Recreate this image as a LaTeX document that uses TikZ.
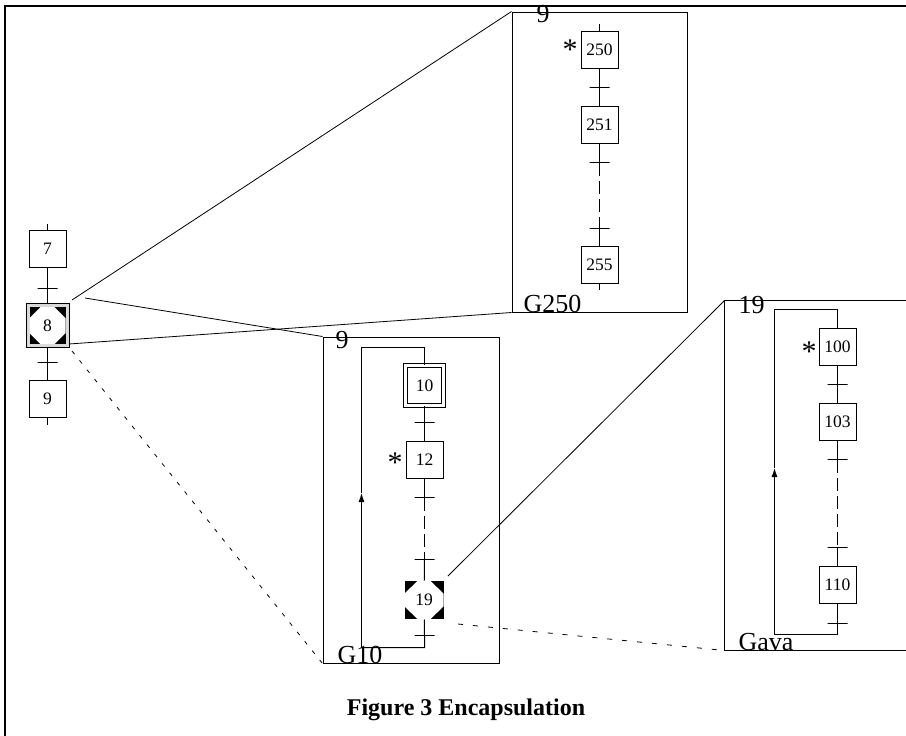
\documentclass[tikz,border=0pt]{standalone}
\usepackage{fontspec}
\setmainfont{Liberation Serif}
\usetikzlibrary{shapes.geometric,arrows.meta}
\begin{document}
\begin{tikzpicture}[x=1pt,y=-1pt,line width=1pt,
  stepbox/.style={draw,minimum width=37pt,minimum height=37pt,inner sep=0pt,font=\fontsize{17.5}{20}\selectfont},
  initbox/.style={stepbox,double,double distance=3.2pt,line width=0.8pt,minimum width=38.5pt,minimum height=40.5pt},
  trans/.style={draw,minimum width=20pt,minimum height=0pt,inner sep=0pt},
  blacksq/.style={fill=black,minimum width=37pt,minimum height=37pt,inner sep=0pt},
  steplab/.style={inner sep=0pt,font=\fontsize{17.5}{20}\selectfont},
  octfill/.style={fill=white},
  macro/.style={draw,inner sep=0pt},
  biglab/.style={anchor=base west,inner sep=0pt,font=\fontsize{26}{28}\selectfont},
  star/.style={anchor=base,inner sep=0pt,font=\fontsize{30}{32}\selectfont},
  gaps/.style={dash pattern=on 13pt off 5pt},
  lead/.style={line width=0.8pt},
  dotlead/.style={line width=0.8pt,dash pattern=on 4pt off 8pt},
  uparrow/.style={-{Latex[length=9pt,width=6pt]}}
]
\useasboundingbox (0,0) rectangle (906,736);
% outer frame
\coordinate (fTL) at (5,6);
\coordinate (fTR) at (910,6);
\coordinate (fBL) at (5,740);
\draw[line width=2pt] (fBL) -- (fTL) -- (fTR);

% ---------- left chart ----------
\coordinate (s7top) at (47.5,224);
\node[stepbox] (s7) at (47.5,249) {7};
\node[trans] (t7) at (47.5,288.5) {};
\node[draw,fill=gray!30,minimum width=43pt,minimum height=44pt,inner sep=0pt] (s8) at (47.5,325) {};
\node[blacksq,minimum width=36pt] (s8b) at (47.5,325.5) {};
\fill[octfill,shift={(s8b.center)}] (-7,-18.5) -- (7,-18.5) -- (18,-7.5) -- (18,7.5) -- (7,18.5) -- (-7,18.5) -- (-18,7.5) -- (-18,-7.5) -- cycle;
\node[steplab] (s8o) at (47.5,325.5) {8};
\node[trans] (t8) at (47.5,362.5) {};
\node[stepbox] (s9) at (47.5,399) {9};
\coordinate (s9bot) at (47.5,425);
\draw (s7top) -- (s7) -- (t7) -- (s8) -- (t8) -- (s9) -- (s9bot);

% ---------- G250 ----------
\node[macro,minimum width=175pt,minimum height=300pt] (g250) at (599.5,162) {};
\node[biglab] (g250top) at (536,22) {9};
\node[biglab] (g250bot) at (523,312) {G250};
\coordinate (s250top) at (599.5,24);
\node[stepbox] (s250) at (599.5,49.5) {250};
\node[star] (st250) at (570,59) {*};
\node[trans] (t250) at (599.5,87.5) {};
\node[stepbox] (s251) at (599.5,125) {251};
\node[trans] (t251) at (599.5,162.5) {};
\node[trans] (t254) at (599.5,228.5) {};
\node[stepbox] (s255) at (599.5,265) {255};
\coordinate (s255bot) at (599.5,290);
\draw (s250top) -- (s250) -- (t250) -- (s251) -- (t251);
\draw[gaps] (t251) -- (t254);
\draw (t254) -- (s255) -- (s255bot);

% ---------- G10 ----------
\node[macro,minimum width=176pt,minimum height=326pt] (g10) at (411,500) {};
\node[biglab] (g10top) at (335,348) {9};
\node[biglab] (g10bot) at (337,663) {G10};
\node[initbox] (s10) at (424.5,385.5) {10};
\node[trans] (t10) at (424.5,422.5) {};
\node[stepbox] (s12) at (424.5,459.5) {12};
\node[star] (st12) at (395,472) {*};
\node[trans] (t12) at (424.5,497.5) {};
\node[trans] (t18) at (424.5,559.5) {};
\node[blacksq,minimum width=39pt,minimum height=38pt] (s19b) at (424,600) {};
\fill[octfill,shift={(s19b.center)}] (-6.5,-19) -- (6.5,-19) -- (19.5,-6.5) -- (19.5,6.5) -- (6.5,19) -- (-6.5,19) -- (-19.5,6.5) -- (-19.5,-6.5) -- cycle;
\node[steplab] (s19) at (424,600) {19};
\node[trans] (t19) at (424.5,635.5) {};
\coordinate (l10br) at (424.5,647.5);
\coordinate (l10bl) at (361.5,647.5);
\coordinate (l10arr) at (361.5,493);
\coordinate (l10tl) at (361.5,347.5);
\coordinate (l10tr) at (424.5,347.5);
\draw (s10) -- (t10) -- (s12) -- (t12);
\draw[gaps] (t12) -- (t18);
\draw (t18) -- (s19b) -- (t19) -- (l10br) -- (l10bl);
\draw[uparrow] (l10bl) -- (l10arr);
\draw (l10arr) -- (l10tl) -- (l10tr) -- (s10);

% ---------- Gava ----------
\coordinate (gvTL) at (724.5,300.5);
\coordinate (gvBL) at (724.5,650.5);
\coordinate (gvTR) at (910,300.5);
\coordinate (gvBR) at (910,650.5);
\draw (gvTR) -- (gvTL) -- (gvBL) -- (gvBR);
\node[biglab] (gvtop) at (738,313) {19};
\node[biglab] (gvbot) at (738,650) {Gava};
\node[stepbox] (s100) at (837.5,346.5) {100};
\node[star] (st100) at (809,361) {*};
\node[trans] (t100) at (837.5,384.5) {};
\node[stepbox] (s103) at (837.5,421.5) {103};
\node[trans] (t103) at (837.5,459.5) {};
\node[trans] (t109) at (837.5,547.5) {};
\node[stepbox] (s110) at (837.5,584.5) {110};
\node[trans] (t110) at (837.5,623.5) {};
\coordinate (lgbr) at (837.5,634.5);
\coordinate (lgbl) at (774.5,634.5);
\coordinate (lgarr) at (774.5,468);
\coordinate (lgtl) at (774.5,309.5);
\coordinate (lgtr) at (837.5,309.5);
\draw (s100) -- (t100) -- (s103) -- (t103);
\draw[gaps] (t103) -- (t109);
\draw (t109) -- (s110) -- (t110) -- (lgbr) -- (lgbl);
\draw[uparrow] (lgbl) -- (lgarr);
\draw (lgarr) -- (lgtl) -- (lgtr) -- (s100);

% ---------- leader lines ----------
\coordinate (c1) at (72,300);
\coordinate (c2) at (85,298);
\coordinate (c3) at (69,344);
\coordinate (c4) at (72,351);
\coordinate (c5) at (448,576);
\coordinate (c6) at (458,624);
\draw[lead] (c1) -- (g250.north west);
\draw[lead] (c3) -- (g250.south west);
\draw[lead] (c2) -- (g10.north west);
\draw[dotlead] (c4) -- (g10.south west);
\draw[lead] (c5) -- (gvTL);
\draw[dotlead,dash pattern=on 5pt off 10pt] (c6) -- (gvBL);

% caption
\node[anchor=base,inner sep=0pt,font=\bfseries\fontsize{24}{26}\selectfont] (cap) at (466,715) {Figure 3 Encapsulation};
\end{tikzpicture}
\end{document}
